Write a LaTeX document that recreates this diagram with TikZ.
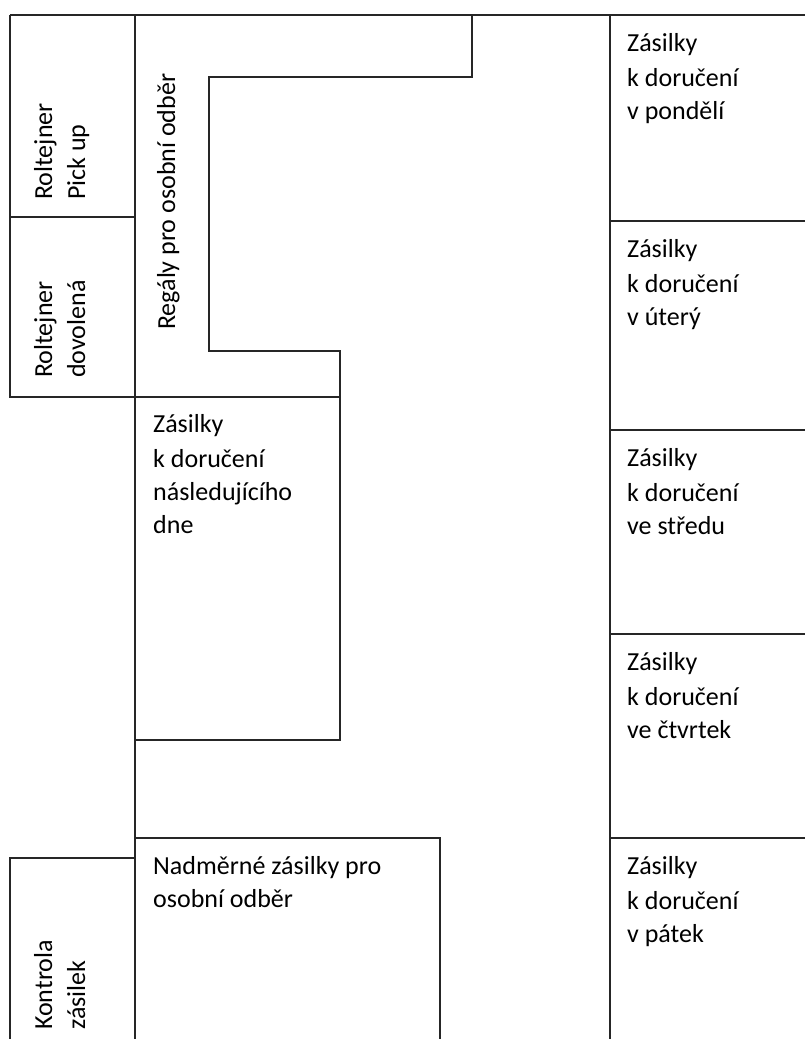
\documentclass[tikz,border=0pt]{standalone}
\usepackage{fontspec}
\setmainfont{Carlito}
\usetikzlibrary{positioning}

\tikzset{
  wall/.style={line width=2.2pt, draw=black!85},
  tag/.style={anchor=base west, inner sep=0pt, align=left, font=\fontsize{26}{33}\selectfont},
  vtag/.style={tag, rotate=90}
}

\begin{document}
\begin{tikzpicture}[x=1pt,y=-1pt]
\useasboundingbox (0,0) rectangle (805,1039);

% outline of the hall
\draw[wall] (10,15) -- (805,15);
\draw[wall] (10,15) -- (10,397) -- (340,397);
\draw[wall] (10,217) -- (135,217);
\draw[wall] (135,15) -- (135,1039);
\draw[wall] (472,15) -- (472,77) -- (209,77) -- (209,351) -- (340,351) -- (340,740) -- (135,740);
\draw[wall] (10,1039) -- (10,858) -- (135,858);
\draw[wall] (135,838) -- (440,838) -- (440,1039);
\draw[wall] (610,15) -- (610,1039);
\foreach \yy in {221,430,634,838}
  \draw[wall] (610,\yy) -- (805,\yy);

% left column (anchored on the last line)
\node[vtag] (pickup) at (85,200) {Roltejner\\Pick up};
\node[vtag] (dovolena) at (85,378) {Roltejner\\dovolená};
\node[vtag] (regaly) at (175,330) {Regály pro osobní odběr};
\node[vtag] (kontrola) at (85,1030) {Kontrola\\zásilek};

% middle
\node[tag] (dalsiden) at (153,533) {Zásilky\\[2pt]k doručení\\následujícího\\dne};
\node[tag] (nadmerne) at (153,907) {Nadměrné zásilky pro\\osobní odběr};

% right column, one box per day
\foreach \yy/\when/\name in {15/v pondělí/pondeli, 221/v úterý/utery, 430/ve středu/streda, 634/ve čtvrtek/ctvrtek, 838/v pátek/patek}{
  \node[tag] (\name) at (627,\yy+104) {Zásilky\\[2pt]k doručení\\\when};
}
\end{tikzpicture}
\end{document}
